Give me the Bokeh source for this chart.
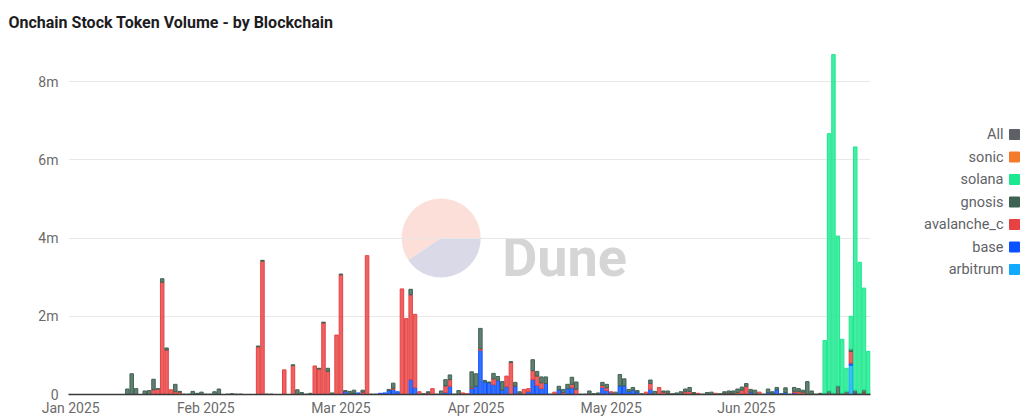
import numpy as np
from bokeh.plotting import figure
from bokeh.models import ColumnDataSource, Range1d, FixedTicker
from bokeh.layouts import row
from bokeh.embed import file_html
from bokeh.resources import INLINE
from bokeh.core.properties import value

# ---------------- data (values in millions of USD, one bar per day) ----------------
n_days = 184
month_labels = ["Jan 2025", "Feb 2025", "Mar 2025", "Apr 2025", "May 2025", "Jun 2025"]
month_label_index = [0, 31, 62, 93, 124, 155]
y_tick_values = [0, 2, 4, 6, 8]
y_tick_labels = ["0", "2m", "4m", "6m", "8m"]
chart_title = "Onchain Stock Token Volume - by Blockchain"

arbitrum = [0.0] * 179 + [0.75, 0, 0, 0, 0]

base = [
    0, 0, 0, 0, 0, 0, 0, 0, 0, 0,
    0, 0, 0, 0, 0, 0, 0, 0, 0, 0,
    0, 0, 0, 0, 0, 0, 0, 0, 0, 0,
    0, 0, 0, 0, 0, 0, 0, 0, 0, 0,
    0, 0, 0, 0, 0, 0, 0, 0, 0, 0,
    0, 0, 0, 0, 0, 0, 0, 0, 0, 0,
    0, 0, 0, .08, .02, .03, .04, 0, 0, 0,
    0, .03, .04, .10, .13, .07, 0, 0, .38, .17,
    0, 0, 0, 0, 0, 0, .05, .21, 0, 0,
    0, 0, .15, .21, 1.13, .32, .30, .25, .36, .11,
    .20, 0, .21, 0, 0, .07, .38, .23, .15, .28,
    0, 0, .12, 0, .15, .17, 0, 0, 0, 0,
    0, 0, .18, .10, .04, 0, .22, .22, .07, .11,
    .06, 0, 0, .13, 0, 0, 0, 0, 0, 0,
    0, 0, 0, 0, 0, 0, 0, 0, 0, 0,
    0, 0, 0, 0, 0, 0, .06, 0, 0, 0,
    .05, .03, .12, 0, .05, 0, .04, 0, 0, 0,
    0, 0, 0, 0, 0, 0, 0, 0, 0, .05,
    .03, 0, 0, 0,
]

avalanche_c = [
    0, 0, 0, 0, 0, 0, 0, 0, 0, 0,
    0, 0, 0, 0, 0, 0, 0, 0, 0, .12,
    .14, 2.87, 1.14, .12, .07, .06, 0, 0, 0, 0,
    0, 0, 0, 0, 0, 0, 0, 0, 0, 0,
    0, 0, 0, 1.22, 3.41, 0, 0, 0, 0, .63,
    0, .74, 0, 0, 0, 0, .73, .65, 1.83, .59,
    0, 1.52, 3.06, 0, 0, 0, 0, .06, 3.55, 0,
    0, 0, 0, 0, .03, 0, 2.70, 1.94, 2.17, 1.88,
    .07, 0, .04, .15, 0, 0, .17, .17, 0, 0,
    .04, .02, .02, 0, .04, 0, 0, .15, 0, 0,
    .27, .82, 0, .03, .13, .08, .23, .24, .15, 0,
    0, .06, 0, .05, 0, .09, .13, 0, 0, 0,
    0, 0, .05, .07, .03, 0, 0, 0, 0, 0,
    0, 0, .06, .15, 0, .18, .06, .03, 0, 0,
    0, .07, .08, .03, .03, 0, 0, 0, .03, 0,
    .03, .03, .03, .05, .11, .21, 0, 0, .06, 0,
    0, 0, 0, 0, 0, 0, .04, .07, .06, 0,
    0, 0, 0, 0, 0, 0, 0, 0, 0, .30,
    0, 0, .04, 0,
]

gnosis = [
    0, 0, 0, 0, 0, 0, 0, 0, 0, 0,
    0, 0, 0, .14, .53, .15, 0, .09, .10, .27,
    .01, .09, .05, 0, .19, .02, .01, .01, .08, .03,
    .06, .01, .01, .07, .14, 0, .01, .02, .01, .01,
    0, 0, 0, .02, .02, .01, .01, 0, 0, 0,
    0, .02, .12, .05, .01, .03, 0, .02, .02, .08,
    .04, 0, .02, .02, .06, .08, 0, .05, 0, .01,
    .01, 0, 0, .03, .13, 0, 0, 0, .14, 0,
    0, .02, .03, 0, .01, .09, .16, .12, .01, .10,
    0, 0, .41, .32, .52, .04, .02, .14, .10, .22,
    0, .02, .10, .04, 0, 0, .28, .12, .15, .17,
    .01, 0, .09, .08, .11, .18, .19, .01, .01, .09,
    .02, .04, .08, .09, 0, .06, .29, .18, .06, .07,
    .04, .02, 0, .09, .08, 0, .03, .06, .02, .04,
    .07, .07, .10, .02, 0, .01, .05, .06, 0, .02,
    .04, .06, .06, .09, .08, .07, .07, .11, 0, .01,
    .09, .04, .06, .02, .12, .01, .10, .08, .05, .33,
    .09, .01, .03, .03, .09, .03, .22, .03, .08, .06,
    .08, .03, .08, .02,
]

solana = [0.0] * 173 + [1.35, 6.58, 8.66, 3.83, 1.38, 0.59, 0.84, 6.22, 3.35, 2.60, 1.08]
sonic = [0.0] * n_days
all_chains = [0.0] * n_days

# stack order bottom -> top
series_names = ["arbitrum", "base", "avalanche_c", "gnosis", "solana", "sonic", "All"]
series_values = [arbitrum, base, avalanche_c, gnosis, solana, sonic, all_chains]
series_colors = ["#12aaff", "#0a52ff", "#e84142", "#3f6352", "#1ce98f", "#f47b2c", "#5d6166"]

# ---------------- main chart ----------------
p = figure(width=880, height=418, x_range=Range1d(-0.5, n_days - 0.5), y_range=Range1d(0, 9.0e6),
           toolbar_location=None, output_backend="svg",
           min_border_left=68, min_border_right=10, min_border_top=42, min_border_bottom=24,
           title=chart_title)
p.outline_line_color = None
p.background_fill_color = "white"
p.border_fill_color = "white"

p.title.align = "left"
p.title.vertical_align = "top"
p.title.offset = -60
p.title.standoff = 17
p.title.text_font = "Roboto"
p.title.text_font_size = "16px"
p.title.text_font_style = "bold"
p.title.text_color = "#1d1d1f"

# watermark
p.wedge(x=[85.0], y=[4.0e6], radius=39.5, radius_units="screen",
        start_angle=0, end_angle=np.deg2rad(214), fill_color="#fcdfd8", line_color=None, level="image")
p.wedge(x=[85.0], y=[4.0e6], radius=39.5, radius_units="screen",
        start_angle=np.deg2rad(214), end_angle=2 * np.pi, fill_color="#d9d9e7", line_color=None, level="image")
p.text(x=[99.0], y=[3.51e6], text=["Dune"], text_font=value("Roboto"), text_font_style="bold",
       text_font_size="54px", text_color="#d5d5d5", text_baseline="alphabetic", level="image")

x_idx = np.arange(n_days)
bottom = np.zeros(n_days)
for name, vals, col in zip(series_names, series_values, series_colors):
    v = np.array(vals, dtype=float) * 1e6
    top = bottom + v
    src = ColumnDataSource(dict(x=x_idx, bottom=bottom.copy(), top=top,
                                la=np.where(v > 0, 1.0, 0.0)))
    p.vbar(x="x", bottom="bottom", top="top", width=0.8, source=src,
           fill_color=col, fill_alpha=0.82, line_color=col, line_alpha="la", line_width=1)
    bottom = top

# axes
p.xaxis.ticker = FixedTicker(ticks=month_label_index)
p.xaxis.major_label_overrides = {i: lab for i, lab in zip(month_label_index, month_labels)}
p.xaxis.major_tick_line_color = None
p.xaxis.major_tick_out = 0
p.xaxis.major_tick_in = 0
p.xaxis.minor_tick_line_color = None
p.xaxis.minor_tick_out = 0
p.xaxis.axis_line_color = "#3a3a3a"
p.xaxis.axis_line_width = 1.5
p.xaxis.major_label_standoff = 5
p.xaxis.major_label_text_font = "Roboto"
p.xaxis.major_label_text_font_size = "14px"
p.xaxis.major_label_text_color = "#6b6b6b"

yt = [t * 1e6 for t in y_tick_values]
p.yaxis.ticker = FixedTicker(ticks=yt)
p.yaxis.major_label_overrides = {int(t): lab for t, lab in zip(yt, y_tick_labels)}
p.yaxis.major_tick_line_color = None
p.yaxis.major_tick_out = 0
p.yaxis.major_tick_in = 0
p.yaxis.minor_tick_line_color = None
p.yaxis.minor_tick_out = 0
p.yaxis.axis_line_color = None
p.yaxis.major_label_standoff = 10
p.yaxis.major_label_text_font = "Roboto"
p.yaxis.major_label_text_font_size = "14px"
p.yaxis.major_label_text_color = "#6b6b6b"

p.xgrid.grid_line_color = None
p.ygrid.ticker = FixedTicker(ticks=yt[1:])
p.ygrid.grid_line_color = "#e8e8e8"

# ---------------- legend (label left of swatch, as in the original) ----------------
# the row layout aligns this figure's frame with the main frame (page y 42..394),
# so the range is expressed in page pixels over that span
leg = figure(width=144, height=418, x_range=Range1d(0, 144), y_range=Range1d(394, 42),
             toolbar_location=None, output_backend="svg", x_axis_type=None, y_axis_type=None,
             min_border=0)
leg.outline_line_color = None
leg.grid.visible = False
legend_order = ["All", "sonic", "solana", "gnosis", "avalanche_c", "base", "arbitrum"]
legend_colors = [series_colors[series_names.index(n)] for n in legend_order]
ly = [134 + 22.5 * k for k in range(len(legend_order))]
leg.text(x=[123] * len(ly), y=ly, text=legend_order, text_align="right", text_baseline="middle",
         text_font=value("Roboto"), text_font_size="14.5px", text_color="#5f6368")
leg.scatter(x=[134] * len(ly), y=ly, marker="square", size=10, fill_color=legend_colors,
            line_color=legend_colors)

layout = row(p, leg)
open("out.html", "w").write(file_html(layout, INLINE))
